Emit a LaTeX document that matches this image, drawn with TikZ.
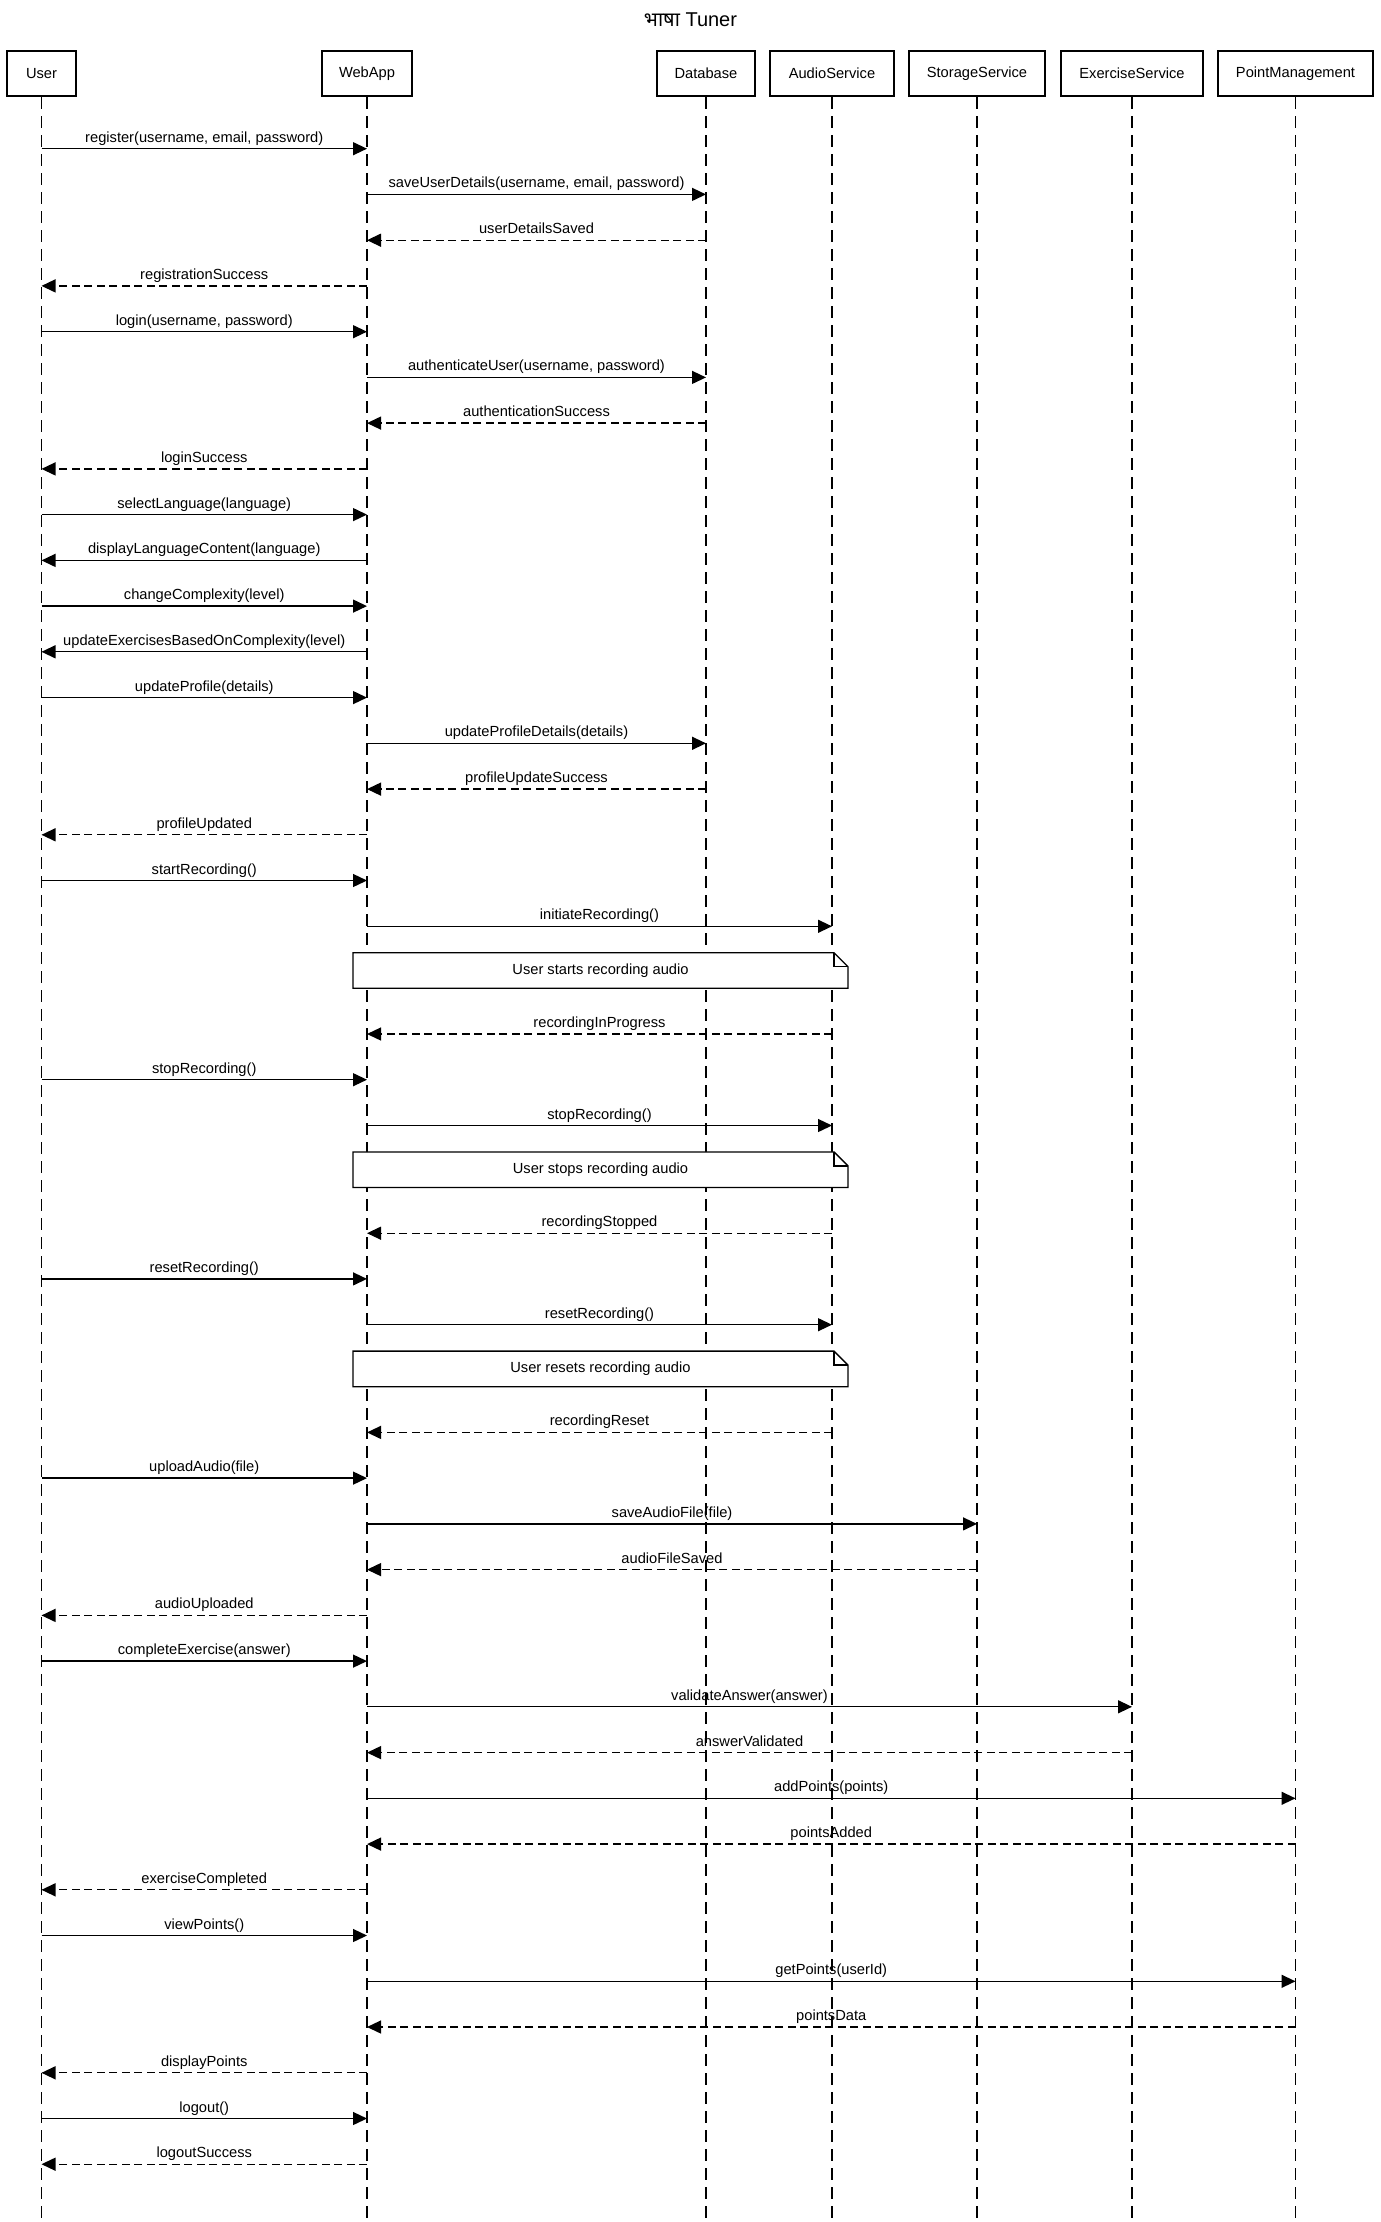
\documentclass[tikz,border=0pt]{standalone}
\usepackage{fontspec}
\setmainfont{Liberation Sans}
\newfontfamily\devfont[Script=Devanagari]{Noto Sans}
\usetikzlibrary{arrows.meta}

\begin{document}
\begin{tikzpicture}[x=1pt, y=-1pt,
    every node/.style={font=\fontsize{14.67}{17}\selectfont},
    actor/.style={draw, line width=2.7pt, minimum height=45pt, inner sep=0pt},
    lifeline/.style={line width=1.33pt, dash pattern=on 12pt off 7pt},
    call/.style={line width=1.33pt, -{Triangle[length=14pt, width=13pt]}},
    reply/.style={call, dash pattern=on 8pt off 4.5pt},
    lbl/.style={anchor=base, yshift=6.5pt},
    notebox/.style={draw, fill=white, line width=1.33pt}]
    \useasboundingbox (0,0) rectangle (1381,2222);

    % 标题
    \node[anchor=base, font=\fontsize{20}{24}\selectfont] (title) at (690.5,26.5) {{\devfont भाषा} Tuner};

    % 参与者
    \node[actor, minimum width=69pt] (user) at (41.5,73.5) {User};
    \node[actor, minimum width=90pt] (webapp) at (367,73.5) {WebApp};
    \node[actor, minimum width=98pt] (db) at (706,73.5) {Database};
    \node[actor, minimum width=124pt] (audio) at (832,73.5) {AudioService};
    \node[actor, minimum width=136pt] (storage) at (977,73.5) {StorageService};
    \node[actor, minimum width=142pt] (exercise) at (1132,73.5) {ExerciseService};
    \node[actor, minimum width=155pt] (points) at (1295.5,73.5) {PointManagement};

    % 生命线
    \coordinate (bottom) at (0,2222);
    \draw[lifeline] (user.south) -- (user.south |- bottom);
    \draw[lifeline] (webapp.south) -- (webapp.south |- bottom);
    \draw[lifeline] (db.south) -- (db.south |- bottom);
    \draw[lifeline] (audio.south) -- (audio.south |- bottom);
    \draw[lifeline] (storage.south) -- (storage.south |- bottom);
    \draw[lifeline] (exercise.south) -- (exercise.south |- bottom);
    \draw[lifeline] (points.south) -- (points.south |- bottom);

    % 注册与登录
    \draw[call] (user |- 0,148.7) -- node[lbl] {register(username, email, password)} (webapp |- 0,148.7);
    \draw[call] (webapp |- 0,194.4) -- node[lbl] {saveUserDetails(username, email, password)} (db |- 0,194.4);
    \draw[reply] (db |- 0,240.2) -- node[lbl] {userDetailsSaved} (webapp |- 0,240.2);
    \draw[reply] (webapp |- 0,285.9) -- node[lbl] {registrationSuccess} (user |- 0,285.9);
    \draw[call] (user |- 0,331.7) -- node[lbl] {login(username, password)} (webapp |- 0,331.7);
    \draw[call] (webapp |- 0,377.4) -- node[lbl] {authenticateUser(username, password)} (db |- 0,377.4);
    \draw[reply] (db |- 0,423.1) -- node[lbl] {authenticationSuccess} (webapp |- 0,423.1);
    \draw[reply] (webapp |- 0,468.9) -- node[lbl] {loginSuccess} (user |- 0,468.9);

    % 语言与难度
    \draw[call] (user |- 0,514.6) -- node[lbl] {selectLanguage(language)} (webapp |- 0,514.6);
    \draw[call] (webapp |- 0,560.4) -- node[lbl] {displayLanguageContent(language)} (user |- 0,560.4);
    \draw[call] (user |- 0,606.1) -- node[lbl] {changeComplexity(level)} (webapp |- 0,606.1);
    \draw[call] (webapp |- 0,651.8) -- node[lbl] {updateExercisesBasedOnComplexity(level)} (user |- 0,651.8);

    % 个人资料
    \draw[call] (user |- 0,697.6) -- node[lbl] {updateProfile(details)} (webapp |- 0,697.6);
    \draw[call] (webapp |- 0,743.3) -- node[lbl] {updateProfileDetails(details)} (db |- 0,743.3);
    \draw[reply] (db |- 0,789.1) -- node[lbl] {profileUpdateSuccess} (webapp |- 0,789.1);
    \draw[reply] (webapp |- 0,834.8) -- node[lbl] {profileUpdated} (user |- 0,834.8);

    % 录音
    \draw[call] (user |- 0,880.5) -- node[lbl] {startRecording()} (webapp |- 0,880.5);
    \draw[call] (webapp |- 0,926.3) -- node[lbl] {initiateRecording()} (audio |- 0,926.3);
    \draw[notebox] (353,952.7) -- (834,952.7) -- (848,966.7) -- (848,988.3) -- (353,988.3) -- cycle;
    \draw[line width=1.33pt] (834,952.7) -- (834,966.7) -- (848,966.7);
    \node (startnote) at (600.5,970.5) {User starts recording audio};
    \draw[reply] (audio |- 0,1034.0) -- node[lbl] {recordingInProgress} (webapp |- 0,1034.0);

    \draw[call] (user |- 0,1079.7) -- node[lbl] {stopRecording()} (webapp |- 0,1079.7);
    \draw[call] (webapp |- 0,1125.5) -- node[lbl] {stopRecording()} (audio |- 0,1125.5);
    \draw[notebox] (353,1151.9) -- (834,1151.9) -- (848,1165.9) -- (848,1187.5) -- (353,1187.5) -- cycle;
    \draw[line width=1.33pt] (834,1151.9) -- (834,1165.9) -- (848,1165.9);
    \node (stopnote) at (600.5,1169.7) {User stops recording audio};
    \draw[reply] (audio |- 0,1233.2) -- node[lbl] {recordingStopped} (webapp |- 0,1233.2);

    \draw[call] (user |- 0,1278.9) -- node[lbl] {resetRecording()} (webapp |- 0,1278.9);
    \draw[call] (webapp |- 0,1324.7) -- node[lbl] {resetRecording()} (audio |- 0,1324.7);
    \draw[notebox] (353,1351.1) -- (834,1351.1) -- (848,1365.1) -- (848,1386.7) -- (353,1386.7) -- cycle;
    \draw[line width=1.33pt] (834,1351.1) -- (834,1365.1) -- (848,1365.1);
    \node (resetnote) at (600.5,1368.9) {User resets recording audio};
    \draw[reply] (audio |- 0,1432.4) -- node[lbl] {recordingReset} (webapp |- 0,1432.4);

    % 上传音频
    \draw[call] (user |- 0,1478.1) -- node[lbl] {uploadAudio(file)} (webapp |- 0,1478.1);
    \draw[call] (webapp |- 0,1523.9) -- node[lbl] {saveAudioFile(file)} (storage |- 0,1523.9);
    \draw[reply] (storage |- 0,1569.6) -- node[lbl] {audioFileSaved} (webapp |- 0,1569.6);
    \draw[reply] (webapp |- 0,1615.4) -- node[lbl] {audioUploaded} (user |- 0,1615.4);

    % 练习与积分
    \draw[call] (user |- 0,1661.1) -- node[lbl] {completeExercise(answer)} (webapp |- 0,1661.1);
    \draw[call] (webapp |- 0,1706.8) -- node[lbl] {validateAnswer(answer)} (exercise |- 0,1706.8);
    \draw[reply] (exercise |- 0,1752.6) -- node[lbl] {answerValidated} (webapp |- 0,1752.6);
    \draw[call] (webapp |- 0,1798.3) -- node[lbl] {addPoints(points)} (points |- 0,1798.3);
    \draw[reply] (points |- 0,1844.1) -- node[lbl] {pointsAdded} (webapp |- 0,1844.1);
    \draw[reply] (webapp |- 0,1889.8) -- node[lbl] {exerciseCompleted} (user |- 0,1889.8);
    \draw[call] (user |- 0,1935.5) -- node[lbl] {viewPoints()} (webapp |- 0,1935.5);
    \draw[call] (webapp |- 0,1981.3) -- node[lbl] {getPoints(userId)} (points |- 0,1981.3);
    \draw[reply] (points |- 0,2027.0) -- node[lbl] {pointsData} (webapp |- 0,2027.0);
    \draw[reply] (webapp |- 0,2072.8) -- node[lbl] {displayPoints} (user |- 0,2072.8);

    % 退出
    \draw[call] (user |- 0,2118.5) -- node[lbl] {logout()} (webapp |- 0,2118.5);
    \draw[reply] (webapp |- 0,2164.2) -- node[lbl] {logoutSuccess} (user |- 0,2164.2);
\end{tikzpicture}
\end{document}
